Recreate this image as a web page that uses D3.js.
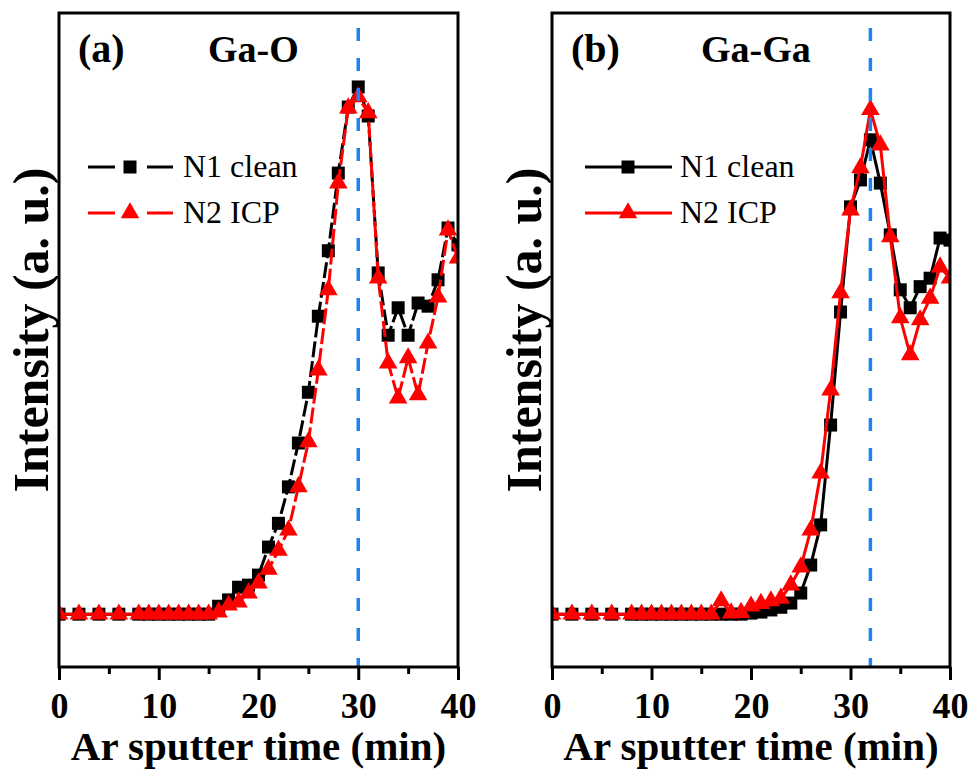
<!DOCTYPE html>
<html>
<head>
<meta charset="utf-8">
<script src="https://cdn.jsdelivr.net/npm/d3@7"></script>
<style>
body { margin: 0; background: #fff; }
text { font-family: "Liberation Serif", "Times New Roman", serif; }
</style>
</head>
<body>
<svg id="chart" width="972" height="769"></svg>
<script>
// sputter time (min), same for every series
var time = [0, 2, 4, 6, 8, 9, 10, 11, 12, 13, 14, 15, 16, 17, 18, 19, 20, 21, 22, 23, 24,
    25, 26, 27, 28, 29, 30, 31, 32, 33, 34, 35, 36, 37, 38, 39, 40];

// (a) Ga-O
var gaO_N1 = [0, 0, 0, 0, 0, 0, 0, 0, 0, 0, 0, 0, 1.5, 2.7, 5.1, 5.5, 7.4, 12.7, 17.2, 24.1, 32.4,
    42.0, 56.4, 68.8, 83.5, 96.0, 99.8, 94.3, 64.6, 52.8, 58.0, 52.8, 58.9, 58.3, 63.3, 73.1, 69.9];
var gaO_N2 = [0, 0, 0, 0, 0, 0, 0, 0, 0, 0, 0, 0, 0.4, 1.7, 2.3, 4.0, 5.9, 8.5, 12.1, 15.9, 24.1,
    32.6, 46.2, 61.4, 81.6, 95.8, 97.9, 94.9, 63.6, 47.5, 40.9, 48.5, 41.5, 51.3, 60.0, 72.7, 67.4];

// (b) Ga-Ga
var gaGa_N1 = [0, 0, 0, 0, 0, 0, 0, 0, 0, 0, 0, 0, 0, 0, 0, 0, 0.2, 0.4, 0.8, 1.3, 2.1,
    4.0, 9.3, 16.9, 35.8, 57.2, 77.1, 82.2, 89.8, 81.6, 71.8, 61.4, 58.0, 62.0, 63.6, 71.2, 70.8];
var gaGa_N2 = [0, 0, 0, 0, 0, 0, 0, 0, 0, 0, 0, 0, 0, 2.5, 0.2, 0.3, 1.5, 2.0, 2.5, 3.0, 5.5,
    8.9, 15.9, 26.7, 42.4, 60.8, 76.5, 84.5, 95.5, 88.8, 71.4, 56.1, 49.1, 55.7, 59.8, 65.7, 63.6];

var seriesNames = ["N1 clean", "N2 ICP"];
var xTicks = [0, 10, 20, 30, 40];
var xMinorTicks = [5, 15, 25, 35];

var svg = d3.select("#chart");
var plotTop = 13, plotBottom = 667;

function drawPanel(id, left, right, letter, title, n1, n2, markTime, dashed) {
    var x = d3.scaleLinear().domain([0, 40]).range([left, right]);
    var y = d3.scaleLinear().domain([-10, 113.8]).range([plotBottom, plotTop]);
    var g = svg.append("g");

    g.append("clipPath").attr("id", "clip" + id)
        .append("rect")
        .attr("x", left).attr("y", plotTop)
        .attr("width", right - left).attr("height", plotBottom - plotTop);

    var plot = g.append("g").attr("clip-path", "url(#clip" + id + ")");

    var line = d3.line()
        .x(function (d, i) { return x(time[i]); })
        .y(function (d) { return y(d); });

    var series = [
        { values: n1, color: "#000", shape: d3.symbolSquare, size: 169 },
        { values: n2, color: "#ff0000", shape: d3.symbolTriangle, size: 150 }
    ];

    series.forEach(function (s) {
        plot.append("path")
            .datum(s.values)
            .attr("d", line)
            .attr("fill", "none")
            .attr("stroke", s.color)
            .attr("stroke-width", 3)
            .attr("stroke-dasharray", dashed ? "16,4" : null);
        plot.selectAll(null)
            .data(s.values)
            .enter()
            .append("path")
            .attr("d", d3.symbol().type(s.shape).size(s.size))
            .attr("transform", function (d, i) {
                return "translate(" + x(time[i]) + "," + y(d) + ")";
            })
            .attr("fill", s.color);
    });

    // blue marker line at the peak
    plot.append("line")
        .attr("x1", x(markTime)).attr("x2", x(markTime))
        .attr("y1", plotTop + 15).attr("y2", plotBottom)
        .attr("stroke", "#1e84f2")
        .attr("stroke-width", 3.5)
        .attr("stroke-dasharray", "13,17");

    // x axis
    var xAxis = d3.axisBottom(x).tickValues(xTicks).tickSize(13).tickPadding(12);
    var ax = g.append("g").attr("transform", "translate(0," + plotBottom + ")").call(xAxis);
    ax.select(".domain").remove();
    ax.selectAll(".tick line").attr("stroke-width", 3);
    ax.selectAll(".tick text")
        .attr("font-family", "Liberation Serif")
        .attr("font-size", 36)
        .attr("font-weight", "bold")
        .attr("fill", "#000");
    var minor = d3.axisBottom(x).tickValues(xMinorTicks).tickSize(7).tickFormat("");
    var mx = g.append("g").attr("transform", "translate(0," + plotBottom + ")").call(minor);
    mx.select(".domain").remove();
    mx.selectAll(".tick line").attr("stroke-width", 3);

    // frame
    g.append("rect")
        .attr("x", left).attr("y", plotTop)
        .attr("width", right - left).attr("height", plotBottom - plotTop)
        .attr("fill", "none")
        .attr("stroke", "#000")
        .attr("stroke-width", 3);

    // labels
    g.append("text")
        .attr("x", (left + right) / 2).attr("y", 760)
        .attr("text-anchor", "middle")
        .attr("font-size", 41).attr("font-weight", "bold")
        .text("Ar sputter time (min)");
    g.append("text")
        .attr("transform", "translate(" + (left - 11) + ",330) rotate(-90)")
        .attr("text-anchor", "middle")
        .attr("font-size", 50).attr("font-weight", "bold")
        .text("Intensity (a. u.)");
    g.append("text")
        .attr("x", left + 19).attr("y", 62)
        .attr("font-size", 40).attr("font-weight", "bold")
        .text(letter);
    g.append("text")
        .attr("x", left + 149).attr("y", 62)
        .attr("font-size", 38).attr("font-weight", "bold")
        .text(title);

    // legend
    var lx = dashed ? left + 29 : left + 33;
    series.forEach(function (s, i) {
        var ly = 167 + i * 46;
        if (dashed) {
            g.append("line").attr("x1", lx).attr("x2", lx + 27)
                .attr("y1", ly).attr("y2", ly)
                .attr("stroke", s.color).attr("stroke-width", 3);
            g.append("line").attr("x1", lx + 59).attr("x2", lx + 85)
                .attr("y1", ly).attr("y2", ly)
                .attr("stroke", s.color).attr("stroke-width", 3);
        } else {
            g.append("line").attr("x1", lx).attr("x2", lx + 87)
                .attr("y1", ly).attr("y2", ly)
                .attr("stroke", s.color).attr("stroke-width", 3);
        }
        var mxPos = dashed ? lx + 42 : lx + 43;
        g.append("path")
            .attr("d", d3.symbol().type(s.shape).size(s.size))
            .attr("transform", "translate(" + mxPos + "," + ly + ")")
            .attr("fill", s.color);
        g.append("text")
            .attr("x", lx + 95).attr("y", ly + 10)
            .attr("font-size", 32)
            .text(seriesNames[i]);
    });
}

drawPanel("a", 59, 458, "(a)", "Ga-O", gaO_N1, gaO_N2, 30, true);
drawPanel("b", 552, 950, "(b)", "Ga-Ga", gaGa_N1, gaGa_N2, 32, false);
</script>
</body>
</html>
